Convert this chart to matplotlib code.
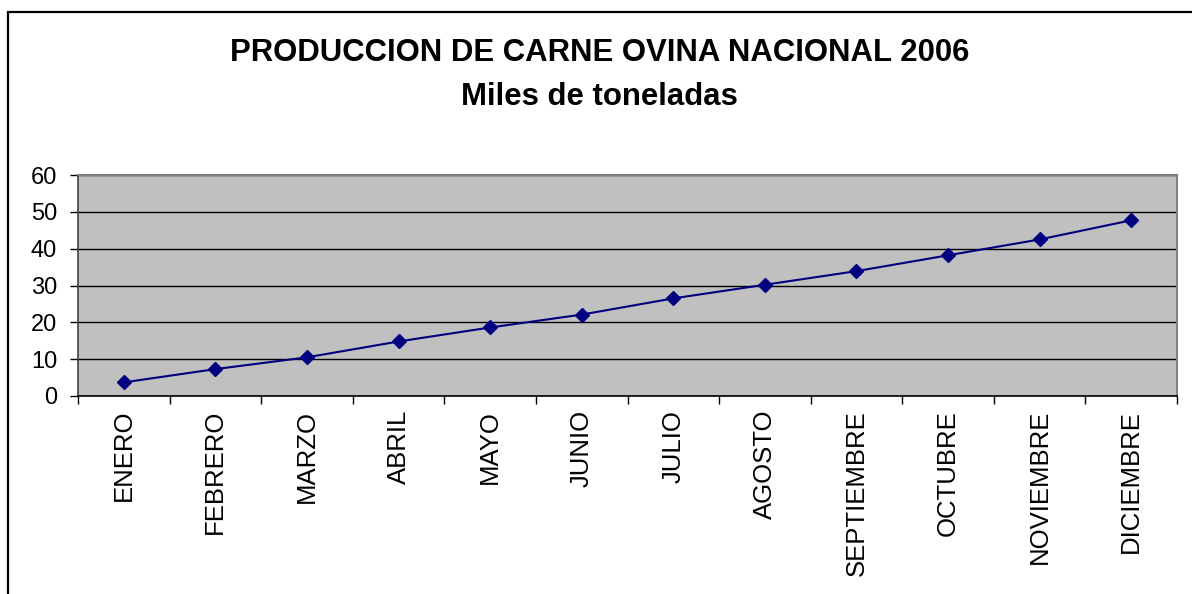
import matplotlib
matplotlib.use("Agg")
import matplotlib.pyplot as plt
from matplotlib.ticker import FixedLocator
from matplotlib.patches import Rectangle

months = ["ENERO", "FEBRERO", "MARZO", "ABRIL", "MAYO", "JUNIO", "JULIO",
          "AGOSTO", "SEPTIEMBRE", "OCTUBRE", "NOVIEMBRE", "DICIEMBRE"]
values = [3.7, 7.3, 10.5, 14.8, 18.6, 22.1, 26.5, 30.2, 33.9, 38.2, 42.5, 47.7]
yticks = [0, 10, 20, 30, 40, 50, 60]
title1 = "PRODUCCION DE CARNE OVINA NACIONAL 2006"
title2 = "Miles de toneladas"

plt.rcParams['font.family'] = ['Liberation Sans', 'DejaVu Sans']

fig = plt.figure(figsize=(11.92, 5.94), dpi=100)
ax = fig.add_axes([78/1192, 1 - 396/594, (1177-78)/1192, (396-175)/594])

# outer frame (extends beyond right/bottom of the image)
fig.patches.append(Rectangle((8/1192, -0.1), 1.2, 1 - 12/594 + 0.1,
                             transform=fig.transFigure, fill=False,
                             edgecolor='black', linewidth=1.6))

x = list(range(len(months)))
ax.set_facecolor('#C0C0C0')
ax.plot(x, values, color='#000080', linewidth=1.5, marker='D',
        markersize=7, markerfacecolor='#000080', markeredgecolor='#000080',
        zorder=3)

ax.set_xlim(-0.5, len(months) - 0.5)
ax.set_ylim(0, 60)
ax.set_yticks(yticks)
ax.set_yticklabels([str(v) for v in yticks], fontsize=17)
ax.yaxis.grid(True, color='black', linewidth=1)
ax.set_axisbelow(True)

ax.set_xticks(x)
ax.set_xticklabels(months, rotation=90, fontsize=18.5, va='top', ha='center')
ax.xaxis.set_minor_locator(FixedLocator([i - 0.5 for i in range(len(months) + 1)]))
ax.tick_params(axis='x', which='major', length=0, pad=10)
ax.tick_params(axis='x', which='minor', length=6, width=1, color='black', direction='out')
ax.tick_params(axis='y', which='major', length=6, width=1, color='black', pad=9)

for side in ['top', 'right']:
    ax.spines[side].set_color('#808080')
    ax.spines[side].set_linewidth(1.5)
ax.spines['left'].set_color('#404040')
ax.spines['left'].set_linewidth(1.2)
ax.spines['bottom'].set_color('black')
ax.spines['bottom'].set_linewidth(1.2)

fig.text(0.503, 1 - 53/594, title1, ha='center', va='center',
         fontsize=22.4, fontweight='bold')
fig.text(0.503, 1 - 97/594, title2, ha='center', va='center',
         fontsize=22.4, fontweight='bold')

fig.savefig("out.png", dpi=100)
